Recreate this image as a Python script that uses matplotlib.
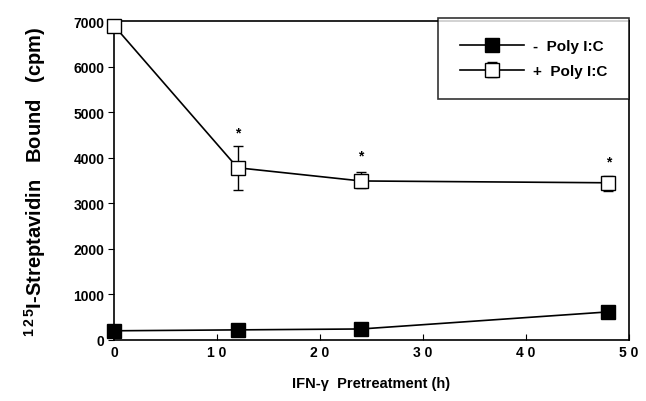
import numpy as np
import matplotlib.pyplot as plt

plt.rcParams['font.family'] = ['Liberation Sans', 'DejaVu Sans']
plt.rcParams['mathtext.fontset'] = 'custom'
plt.rcParams['mathtext.rm'] = 'Liberation Sans:bold'
plt.rcParams['mathtext.bf'] = 'Liberation Sans:bold'

# data
hours = [0, 12, 24, 48]
minus_polyic = [200, 220, 240, 615]
plus_polyic = [6900, 3780, 3490, 3450]
plus_err_low = [0, 480, 150, 170]
plus_err_high = [0, 480, 200, 150]
star_y = [4550, 4040, 3910]

x_ticks = [0, 10, 20, 30, 40, 50]
x_ticklabels = ['0', '1 0', '2 0', '3 0', '4 0', '5 0']
y_ticks = [0, 1000, 2000, 3000, 4000, 5000, 6000, 7000]

fig = plt.figure(figsize=(6.46, 4.02), dpi=100)
ax = fig.add_axes([0.1765, 0.152, 0.797, 0.793])

ax.plot(hours, minus_polyic, color='black', lw=1.2, marker='s', ms=10,
        mfc='black', mec='black', label='-  Poly I:C', zorder=3, clip_on=False)
eb = ax.errorbar(hours, plus_polyic, yerr=[plus_err_low, plus_err_high],
                 color='black', lw=1.2, marker='s', ms=10, mfc='white', mec='black',
                 mew=1.0, capsize=3.5, elinewidth=1.0, label='+  Poly I:C', zorder=3)
eb[0].set_clip_on(False)

# significance asterisks
for xi, yi in zip(hours[1:], star_y):
    ax.text(xi, yi, '*', ha='center', va='center', fontsize=10, fontweight='bold')

ax.set_xlim(0, 50)
ax.set_ylim(0, 7000)
ax.set_xticks(x_ticks)
ax.set_xticklabels(x_ticklabels, fontsize=10, fontweight='bold')
ax.set_yticks(y_ticks)
ax.set_yticklabels([str(v) for v in y_ticks], fontsize=10, fontweight='bold')
ax.tick_params(axis='x', direction='in', length=4, pad=4)
ax.tick_params(axis='y', direction='out', length=4, pad=3)
for s in ax.spines.values():
    s.set_linewidth(1.2)

ax.set_xlabel('IFN-\u03b3  Pretreatment (h)', fontsize=10.5, fontweight='bold', labelpad=12)
ax.set_ylabel('$^{1\\,2\\,5}$I-Streptavidin   Bound   (cpm)', fontsize=14.5,
              fontweight='bold', labelpad=18)

leg = ax.legend(loc='upper right', bbox_to_anchor=(1.0, 1.01),
                prop={'weight': 'bold', 'size': 11}, frameon=True, fancybox=False,
                borderpad=1.4, handlelength=4.2, labelspacing=0.7,
                borderaxespad=0, handletextpad=0.6)
leg.get_frame().set_edgecolor('black')
leg.get_frame().set_linewidth(1.2)

fig.savefig('out.png', dpi=100)
